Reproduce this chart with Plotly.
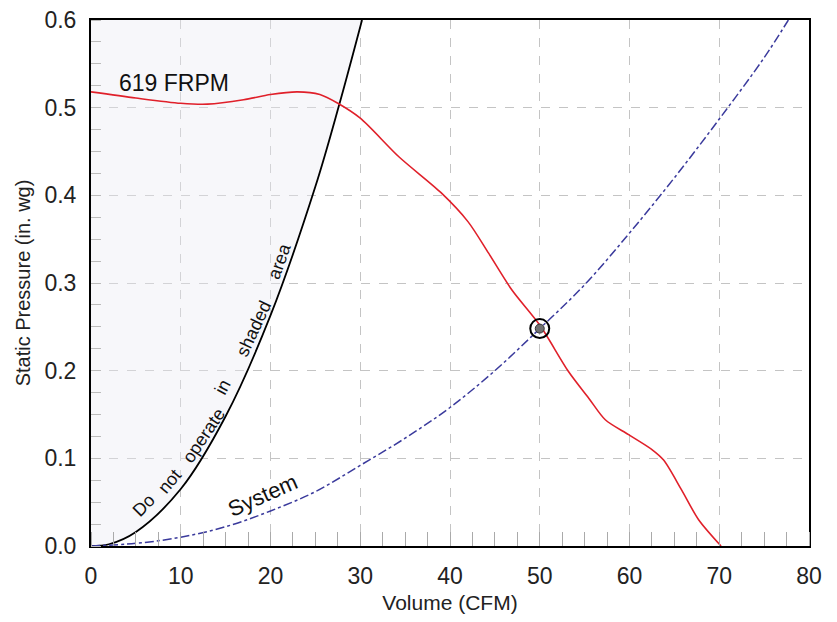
import plotly.graph_objects as go

# fan curve, 619 FRPM
fan_cfm = [0, 5, 10, 13, 17, 20, 23, 25.5, 27.5, 30, 34.3, 39, 42, 44.3, 46.9, 50,
           53.2, 55.5, 57.3, 59.9, 62.5, 63.8, 65.8, 67.7, 70.2]
fan_sp = [0.518, 0.511, 0.505, 0.504, 0.509, 0.515, 0.518, 0.515, 0.505, 0.488, 0.444,
          0.403, 0.37, 0.334, 0.292, 0.252, 0.199, 0.168, 0.144, 0.127, 0.11, 0.098,
          0.064, 0.030, 0.0]

# "do not operate" boundary
limit_cfm = [0, 2, 5, 10, 15, 20, 25, 27.7, 30.2]
limit_sp = [0, 0.002, 0.016, 0.065, 0.148, 0.263, 0.41, 0.505, 0.6]

# system curve
sys_cfm = [0, 5, 10, 15, 20, 25, 30, 35, 40, 45, 50, 55, 60, 65, 70, 75, 77.7]
sys_sp = [0, 0.003, 0.010, 0.022, 0.040, 0.062, 0.092, 0.123, 0.158, 0.200, 0.248,
          0.298, 0.357, 0.420, 0.487, 0.557, 0.6]

# operating point
op_cfm = [50.0]
op_sp = [0.248]

# words along the boundary: x, y, angle
words = ["Do", "not", "operate", "in", "shaded", "area"]
word_x = [5.9, 8.8, 12.5, 14.7, 18.1, 21.0]
word_y = [0.047, 0.074, 0.126, 0.181, 0.248, 0.325]
word_ang = [-45, -50, -56, -62, -65, -70]

xticks = [0, 10, 20, 30, 40, 50, 60, 70, 80]
yticks = [0.0, 0.1, 0.2, 0.3, 0.4, 0.5, 0.6]

font = "Liberation Sans, Arial, sans-serif"

fig = go.Figure()

# shaded area left of the boundary
fig.add_trace(go.Scatter(x=limit_cfm, y=limit_sp, mode="lines",
                         line=dict(color="black", width=1.8, shape="spline"),
                         fill="tozerox", fillcolor="rgba(235,235,242,0.4)",
                         hoverinfo="skip"))

fig.add_trace(go.Scatter(x=sys_cfm, y=sys_sp, mode="lines",
                         line=dict(color="#3a3a9c", width=1.5, dash="dashdot", shape="spline")))

fig.add_trace(go.Scatter(x=fan_cfm, y=fan_sp, mode="lines",
                         line=dict(color="#e0202a", width=1.6, shape="spline", smoothing=0.8)))

# ring + dot for the operating point
fig.add_trace(go.Scatter(x=op_cfm, y=op_sp, mode="markers",
                         marker=dict(size=19, color="rgba(0,0,0,0)",
                                     line=dict(color="black", width=2))))
fig.add_trace(go.Scatter(x=op_cfm, y=op_sp, mode="markers",
                         marker=dict(size=9, color="#707070",
                                     line=dict(color="#333", width=1))))

for w, x, y, a in zip(words, word_x, word_y, word_ang):
    fig.add_annotation(x=x, y=y, text=w, textangle=a, showarrow=False,
                       font=dict(size=18, color="#111", family=font))

fig.add_annotation(x=9.3, y=0.528, text="619 FRPM", showarrow=False,
                   font=dict(size=23, color="#111", family=font))
fig.add_annotation(x=19.1, y=0.058, text="System", textangle=-24, showarrow=False,
                   font=dict(size=22, color="#111", family=font))

# the page body adds an 8px offset, margins compensate for it
fig.update_layout(
    width=837, height=622,
    margin=dict(l=83, r=36, t=12, b=84),
    paper_bgcolor="white", plot_bgcolor="white",
    showlegend=False,
    font=dict(family=font, size=23, color="#222"),
)

fig.update_xaxes(
    range=[0, 80], tickvals=xticks, ticks="", automargin=False,
    ticklabelstandoff=8, ticklabeloverflow="allow",
    showline=True, linecolor="black", linewidth=2, mirror=True,
    showgrid=True, gridcolor="#c4c4c4", gridwidth=1, griddash="dash",
    zeroline=False,
    minor=dict(dtick=2.5, ticks="inside", ticklen=14, tickcolor="#aaa", showgrid=False),
    title=dict(text="Volume (CFM)", font=dict(size=21), standoff=8),
)
fig.update_yaxes(
    range=[0, 0.6], tickvals=yticks, tickformat=".1f", ticks="", automargin=False,
    ticklabelstandoff=8, ticklabeloverflow="allow",
    showline=True, linecolor="black", linewidth=2, mirror=True,
    showgrid=True, gridcolor="#c4c4c4", gridwidth=1, griddash="dash",
    zeroline=False,
    minor=dict(dtick=0.025, ticks="inside", ticklen=10, tickcolor="#bbb", showgrid=False),
    title=dict(text="Static Pressure (in. wg)", font=dict(size=20), standoff=8),
)

fig.write_html("out.html")
